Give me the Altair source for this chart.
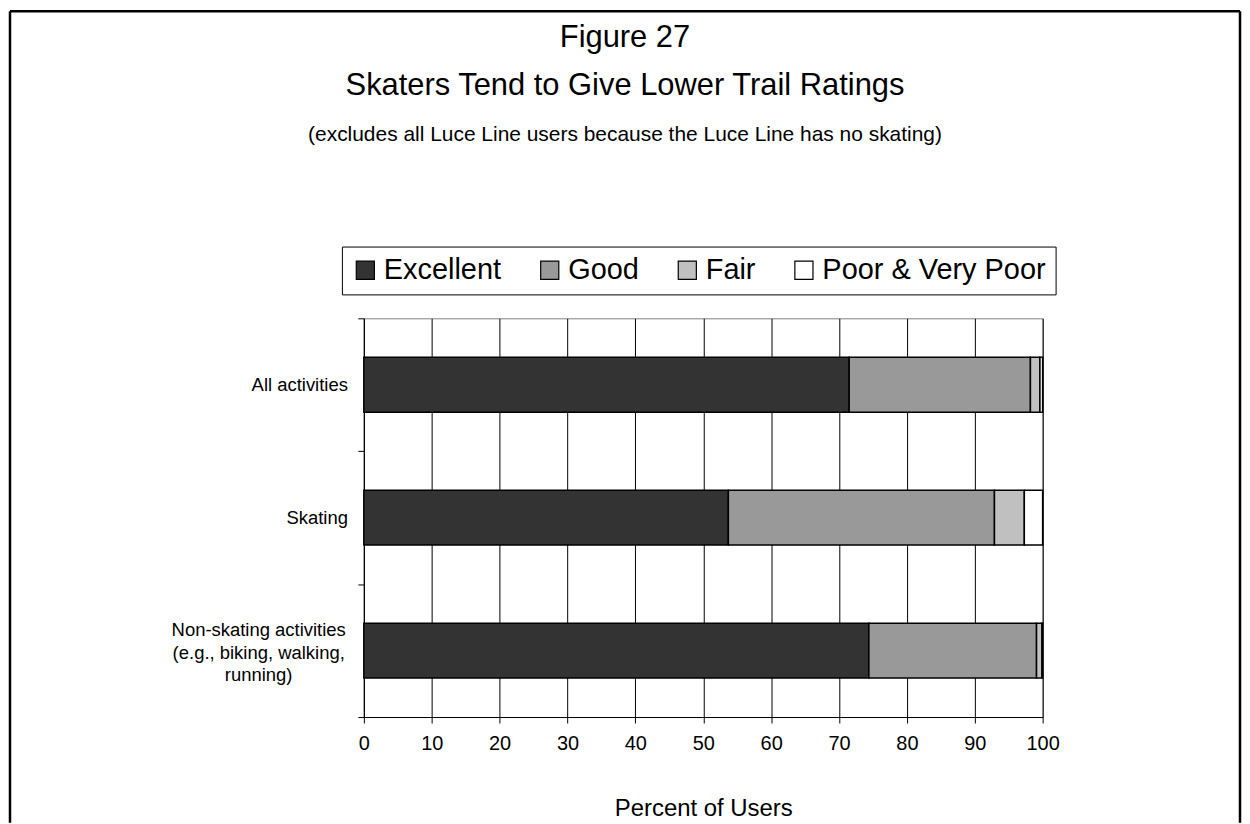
import altair as alt
import pandas as pd

# ---- data ----
categories = [
    "All activities",
    "Skating",
    "Non-skating activities|(e.g., biking, walking,|running)",
]
ratings = ["Excellent", "Good", "Fair", "Poor & Very Poor"]
excellent = [71.5, 53.7, 74.4]
good = [26.7, 39.2, 24.7]
fair = [1.4, 4.4, 0.8]
poor = [0.4, 2.7, 0.1]
x_ticks = [0, 10, 20, 30, 40, 50, 60, 70, 80, 90, 100]
colors = ["#333333", "#999999", "#c0c0c0", "#ffffff"]

rows = []
for ci, cat in enumerate(categories):
    for ri, (r, series) in enumerate(zip(ratings, [excellent, good, fair, poor])):
        rows.append({"category": cat, "rating": r, "order": ri, "value": series[ci]})
df = pd.DataFrame(rows)
label_df = pd.DataFrame({"category": categories, "multi": [("|" in c) for c in categories]})

FONT = "Liberation Sans"
y_enc = alt.Y("category:N", sort=categories, scale=alt.Scale(paddingInner=0, paddingOuter=0))

bars = alt.Chart(df).mark_bar(size=55, stroke="black", strokeWidth=1.5).encode(
    y=alt.Y(
        "category:N",
        sort=categories,
        scale=alt.Scale(paddingInner=0, paddingOuter=0),
        axis=alt.Axis(
            title=None,
            labels=False,
            tickBand="extent",
            tickSize=6,
            tickColor="black",
            domainColor="black",
            grid=False,
        ),
    ),
    x=alt.X(
        "value:Q",
        stack="zero",
        scale=alt.Scale(domain=[0, 100], nice=False),
        axis=alt.Axis(
            title="Percent of Users",
            values=x_ticks,
            labelFlush=False,
            labelFontSize=20,
            labelColor="black",
            labelPadding=11,
            tickSize=6,
            tickColor="black",
            domainColor="black",
            grid=True,
            gridColor="black",
            gridWidth=1,
            titleFontSize=24,
            titleFontWeight="normal",
            titleColor="black",
            titlePadding=43,
        ),
    ),
    color=alt.Color(
        "rating:N",
        sort=ratings,
        scale=alt.Scale(domain=ratings, range=colors),
        legend=alt.Legend(
            title=None,
            orient="none",
            direction="horizontal",
            legendX=-22,
            legendY=-72,
            symbolType="square",
            symbolSize=330,
            symbolStrokeColor="black",
            symbolStrokeWidth=1.2,
            symbolOpacity=1,
            labelFontSize=29,
            labelColor="black",
            labelOffset=4,
            labelLimit=0,
            columnPadding=34,
            padding=9,
            strokeColor="black",
            fillColor="white",
        ),
    ),
    order=alt.Order("order:Q"),
)

# category labels (single-line ones right-aligned, wrapped one centred as a block)
labels_single = alt.Chart(label_df).transform_filter("!datum.multi").mark_text(
    align="right", baseline="middle", fontSize=18.5, color="black"
).encode(y=y_enc, x=alt.value(-16), text="category:N")
labels_multi = alt.Chart(label_df).transform_filter("datum.multi").mark_text(
    align="center", baseline="middle", fontSize=18.5, color="black",
    lineBreak="|", lineHeight=23, dy=-21,
).encode(y=y_enc, x=alt.value(-105.5), text="category:N")

# outer frame of the figure (left, top, right edges)
frame_src = pd.DataFrame({"f": [0]})
frame_left = alt.Chart(frame_src).mark_rule(color="black", strokeWidth=2.5).encode(
    x=alt.value(-355), y=alt.value(-308), y2=alt.value(506)
)
frame_top = alt.Chart(frame_src).mark_rule(color="black", strokeWidth=2.5).encode(
    x=alt.value(-355), x2=alt.value(879), y=alt.value(-308)
)
frame_right = alt.Chart(frame_src).mark_rule(color="black", strokeWidth=2.5).encode(
    x=alt.value(879), y=alt.value(-308), y2=alt.value(506)
)

chart = alt.layer(
    frame_left, frame_top, frame_right, bars, labels_single, labels_multi
).properties(
    width=681,
    height=400,
    padding=0,
    title=alt.Title(
        text=["Figure 27", "Skaters Tend to Give Lower Trail Ratings"],
        subtitle="(excludes all Luce Line users because the Luce Line has no skating)",
        fontSize=31,
        fontWeight="normal",
        lineHeight=48,
        color="black",
        subtitleFontSize=21,
        subtitleColor="black",
        subtitlePadding=22,
        offset=-136,
        anchor="middle",
        frame="bounds",
        baseline="top",
    ),
).configure(font=FONT).configure_view(stroke="#808080", strokeWidth=1)

chart.save("out.html", embed_options={"renderer": "svg", "actions": False})
